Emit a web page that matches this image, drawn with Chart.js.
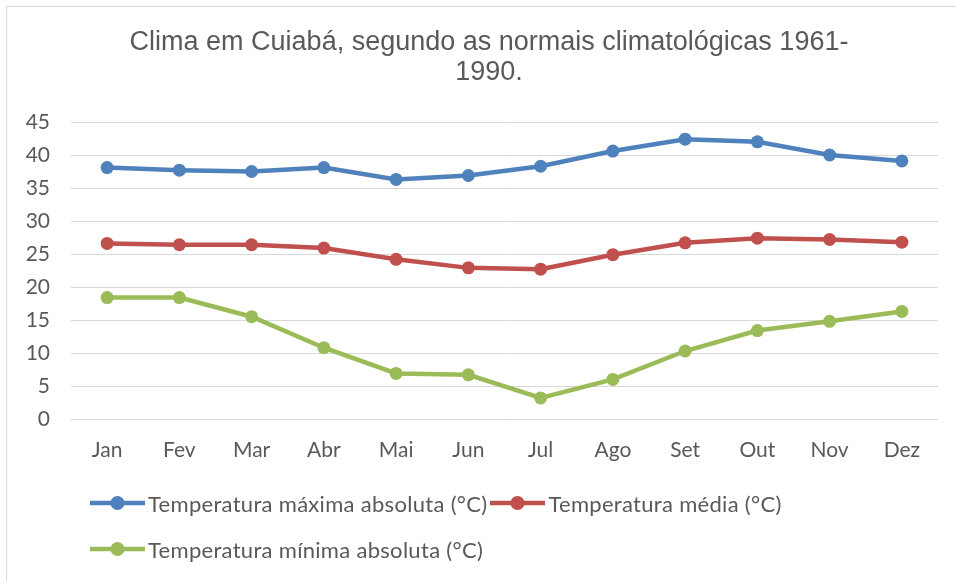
<!DOCTYPE html>
<html>
<head>
<meta charset="utf-8">
<script src="https://cdn.jsdelivr.net/npm/chart.js@4.4.0/dist/chart.umd.min.js"></script>
<style>
    body { margin: 0; background: #fff; }
    #wrap { position: relative; width: 956px; height: 581px; }
    #frame { position: absolute; left: 6px; top: 6px; right: 0; bottom: 0; border-left: 1px solid #d9d9d9; border-top: 1px solid #d9d9d9; pointer-events: none; }
    #legend { position: absolute; left: 90px; top: 489px; width: 760px; display: flex; flex-wrap: wrap; row-gap: 18px; column-gap: 3px; }
    .leg { display: flex; align-items: center; height: 28px; font-family: Lato, "Open Sans", sans-serif; font-size: 22px; letter-spacing: 0.3px; color: #595959; white-space: nowrap; }
    .leg canvas { margin-right: 3px; }
</style>
</head>
<body>
<div id="wrap">
    <canvas id="climaChart" width="956" height="581"></canvas>
    <div id="frame"></div>
    <div id="legend"></div>
</div>
<script>
    const meses = ['Jan', 'Fev', 'Mar', 'Abr', 'Mai', 'Jun', 'Jul', 'Ago', 'Set', 'Out', 'Nov', 'Dez'];
    const tempMaxima = [38.1, 37.7, 37.5, 38.1, 36.3, 36.9, 38.3, 40.6, 42.4, 42.0, 40.0, 39.1];
    const tempMedia = [26.6, 26.4, 26.4, 25.9, 24.2, 22.9, 22.7, 24.9, 26.7, 27.4, 27.2, 26.8];
    const tempMinima = [18.4, 18.4, 15.5, 10.8, 6.9, 6.7, 3.2, 6.0, 10.3, 13.4, 14.8, 16.3];
    const nomes = ['Temperatura máxima absoluta (°C)', 'Temperatura média (°C)', 'Temperatura mínima absoluta (°C)'];
    const cores = ['#4F81BD', '#C0504D', '#9BBB59'];

    const tickFont = { family: 'Lato, "Open Sans", sans-serif', size: 21 };

    function serie(i, data) {
        return {
            label: nomes[i],
            data: data,
            borderColor: cores[i],
            backgroundColor: cores[i],
            borderWidth: 4.5,
            pointRadius: 6.5,
            pointHoverRadius: 6.5,
            pointBorderWidth: 0,
            tension: 0
        };
    }

    // o título original fica um pouco à direita do centro
    const shiftTitle = {
        id: 'shiftTitle',
        afterLayout(chart) {
            if (chart.titleBlock) chart.titleBlock.left += 20;
        }
    };

    const ctx = document.getElementById('climaChart').getContext('2d');
    const chart = new Chart(ctx, {
        type: 'line',
        data: {
            labels: meses,
            datasets: [serie(0, tempMaxima), serie(1, tempMedia), serie(2, tempMinima)]
        },
        plugins: [shiftTitle],
        options: {
            responsive: false,
            animation: false,
            layout: { padding: { left: 20, right: 18, top: 0, bottom: 118 } },
            plugins: {
                legend: { display: false },
                tooltip: { enabled: false },
                title: {
                    display: true,
                    text: ['Clima em Cuiabá, segundo as normais climatológicas 1961-', '1990.'],
                    color: '#595959',
                    font: { family: '"Liberation Sans", Arial, sans-serif', size: 27, weight: 'normal', lineHeight: 1.13 },
                    padding: { top: 27, bottom: 34 }
                }
            },
            scales: {
                x: {
                    offset: true,
                    grid: { display: false, drawTicks: false },
                    border: { display: false },
                    ticks: { color: '#595959', font: tickFont, padding: 19 },
                    afterFit: function(s) { s.height = 44; }
                },
                y: {
                    min: 0,
                    max: 45,
                    grid: { color: '#d9d9d9', lineWidth: 1, drawTicks: false },
                    border: { display: false },
                    ticks: { stepSize: 5, color: '#595959', font: tickFont, padding: 21 },
                    afterFit: function(s) { s.width = 51; }
                }
            }
        }
    });

    // legenda em HTML, montada a partir dos datasets
    const legend = document.getElementById('legend');
    chart.data.datasets.forEach(function(ds, i) {
        const item = document.createElement('div');
        item.className = 'leg';
        if (i === 2) item.style.flexBasis = '100%';
        const mk = document.createElement('canvas');
        mk.width = 55; mk.height = 28;
        const c = mk.getContext('2d');
        c.strokeStyle = ds.borderColor;
        c.lineWidth = 4.5;
        c.beginPath(); c.moveTo(0, 14); c.lineTo(55, 14); c.stroke();
        c.fillStyle = ds.backgroundColor;
        c.beginPath(); c.arc(27.5, 14, 7, 0, Math.PI * 2); c.fill();
        item.appendChild(mk);
        const txt = document.createElement('span');
        txt.textContent = ds.label;
        item.appendChild(txt);
        legend.appendChild(item);
    });
</script>
</body>
</html>
